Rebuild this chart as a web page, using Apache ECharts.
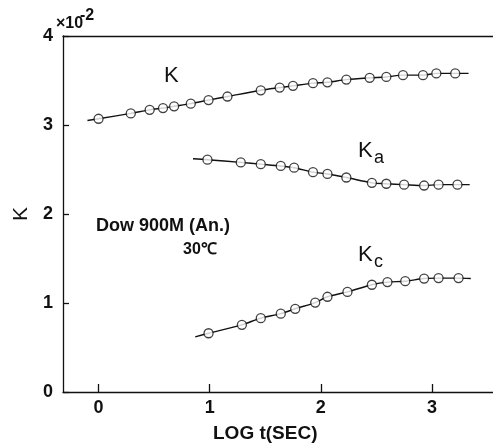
<!DOCTYPE html>
<html>
<head>
<meta charset="utf-8">
<script src="https://cdn.jsdelivr.net/npm/echarts@6/dist/echarts.min.js"></script>
<style>
  html, body { margin: 0; padding: 0; background: #fff; }
  #chart { width: 493px; height: 446px; }
</style>
</head>
<body>
<div id="chart"></div>
<script>
// K 曲线 (log t, K x10^-2)
var kLogT = [0, 0.29, 0.46, 0.58, 0.68, 0.83, 0.99, 1.16, 1.46, 1.63, 1.75, 1.93, 2.06, 2.23, 2.44, 2.59, 2.74, 2.92, 3.04, 3.21];
var kVal  = [3.07, 3.13, 3.17, 3.19, 3.21, 3.24, 3.28, 3.32, 3.39, 3.42, 3.44, 3.47, 3.48, 3.51, 3.53, 3.54, 3.56, 3.56, 3.58, 3.58];
var kLineEnds = [[-0.10, 3.05], [3.33, 3.58]];

// Ka 曲线
var kaLogT = [0.98, 1.28, 1.46, 1.64, 1.76, 1.93, 2.06, 2.23, 2.46, 2.59, 2.75, 2.93, 3.06, 3.23];
var kaVal  = [2.61, 2.58, 2.56, 2.54, 2.52, 2.47, 2.45, 2.41, 2.35, 2.34, 2.33, 2.32, 2.33, 2.33];
var kaLineEnds = [[0.85, 2.62], [3.34, 2.33]];

// Kc 曲线
var kcLogT = [0.99, 1.29, 1.46, 1.64, 1.77, 1.95, 2.06, 2.24, 2.46, 2.60, 2.76, 2.93, 3.06, 3.24];
var kcVal  = [0.66, 0.755, 0.83, 0.88, 0.935, 1.005, 1.07, 1.125, 1.205, 1.235, 1.245, 1.275, 1.28, 1.28];
var kcLineEnds = [[0.87, 0.62], [3.35, 1.275]];

var xTicks = [0, 1, 2, 3];
var yTicks = [0, 1, 2, 3, 4];

var FONT = 'Liberation Sans';

function points(xs, ys) {
    return xs.map(function (x, i) { return [x, ys[i]]; });
}
function linePoints(xs, ys, ends) {
    return [ends[0]].concat(points(xs, ys), [ends[1]]);
}

function lineSeries(data) {
    return {
        type: 'line',
        data: data,
        symbol: 'none',
        smooth: 0.3,
        lineStyle: { color: '#111', width: 1.4 },
        z: 2
    };
}
function dotSeries(data) {
    return {
        type: 'scatter',
        data: data,
        symbol: 'circle',
        symbolSize: 9,
        itemStyle: { color: '#fff', borderColor: '#111', borderWidth: 1.3 },
        z: 3
    };
}

var myChart = echarts.init(document.getElementById('chart'));
var option = {
    animation: false,
    backgroundColor: '#fff',
    grid: { left: 63, top: 36, right: 0, bottom: 54 },
    xAxis: [{
        type: 'value',
        min: -0.32,
        max: 3.55,
        position: 'bottom',
        splitLine: { show: false },
        axisLine: { show: true, onZero: false, lineStyle: { color: '#111', width: 1.3 } },
        axisTick: { show: true, inside: true, length: 8, lineStyle: { color: '#111', width: 1.3 },
                    customValues: xTicks },
        axisLabel: { color: '#111', fontSize: 18, fontFamily: FONT, fontWeight: 'bold', margin: 7,
                     customValues: xTicks }
    }, {
        type: 'value',
        min: -0.32,
        max: 3.55,
        position: 'top',
        splitLine: { show: false },
        axisLine: { show: true, onZero: false, lineStyle: { color: '#111', width: 1.3 } },
        axisTick: { show: false },
        axisLabel: { show: false }
    }],
    yAxis: {
        type: 'value',
        min: 0,
        max: 4,
        interval: 1,
        splitLine: { show: false },
        axisLine: { show: true, onZero: false, lineStyle: { color: '#111', width: 1.3 } },
        axisTick: { show: true, inside: true, length: 6, lineStyle: { color: '#111', width: 1.3 } },
        axisLabel: { color: '#111', fontSize: 18, fontFamily: FONT, fontWeight: 'bold', margin: 10,
                     formatter: function (v) { return yTicks.indexOf(v) >= 0 ? String(v) : ''; } },
        name: 'K',
        nameLocation: 'middle',
        nameGap: 21,
        nameTextStyle: { color: '#111', fontSize: 21, fontFamily: FONT }
    },
    graphic: [
        { type: 'text', left: 56, top: 16, style: { text: '×10', fontSize: 16, fontFamily: FONT, fontWeight: 'bold', fill: '#111' } },
        { type: 'text', left: 80, top: 8, style: { text: '-2', fontSize: 16, fontFamily: FONT, fontWeight: 'bold', fill: '#111' } },
        { type: 'text', left: 164, top: 65, style: { text: 'K', fontSize: 22, fontFamily: FONT, fill: '#111' } },
        { type: 'text', left: 358, top: 140, style: { text: 'K', fontSize: 22, fontFamily: FONT, fill: '#111' } },
        { type: 'text', left: 374, top: 149, style: { text: 'a', fontSize: 18, fontFamily: FONT, fill: '#111' } },
        { type: 'text', left: 358, top: 244, style: { text: 'K', fontSize: 22, fontFamily: FONT, fill: '#111' } },
        { type: 'text', left: 374, top: 253, style: { text: 'c', fontSize: 18, fontFamily: FONT, fill: '#111' } },
        { type: 'text', left: 96, top: 217, style: { text: 'Dow 900M (An.)', fontSize: 18, fontFamily: FONT, fontWeight: 'bold', fill: '#111' } },
        { type: 'text', left: 183, top: 242, style: { text: '30℃', fontSize: 16, fontFamily: FONT, fontWeight: 'bold', fill: '#111' } },
        { type: 'text', left: 213, top: 424, style: { text: 'LOG t(SEC)', fontSize: 19, fontFamily: FONT, fontWeight: 'bold', fill: '#111' } }
    ],
    series: [
        lineSeries(linePoints(kLogT, kVal, kLineEnds)),
        dotSeries(points(kLogT, kVal)),
        lineSeries(linePoints(kaLogT, kaVal, kaLineEnds)),
        dotSeries(points(kaLogT, kaVal)),
        lineSeries(linePoints(kcLogT, kcVal, kcLineEnds)),
        dotSeries(points(kcLogT, kcVal))
    ]
};
myChart.setOption(option);
</script>
</body>
</html>
